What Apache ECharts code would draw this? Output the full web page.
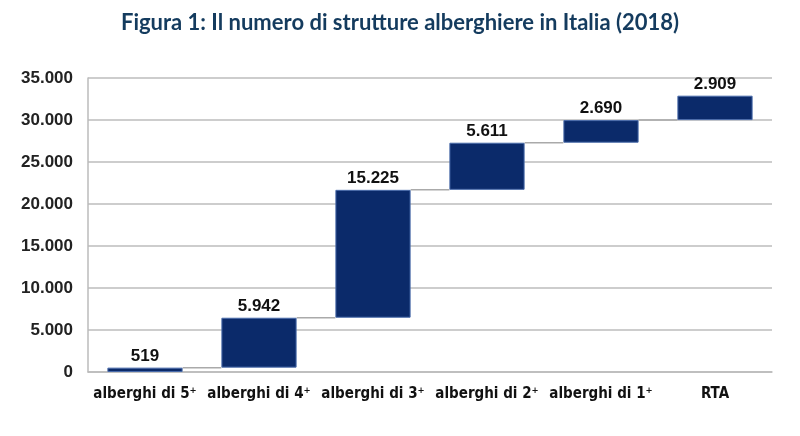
<!DOCTYPE html>
<html><head><meta charset="utf-8">
<script src="https://cdn.jsdelivr.net/npm/echarts@6/dist/echarts.min.js"></script>
<style>html,body{margin:0;padding:0;background:#fff}#c{width:800px;height:436px}</style>
</head><body><div id="c"></div>
<script>
const titleText = 'Figura 1: Il numero di strutture alberghiere in Italia (2018)';
const categories = ['alberghi di 5*', 'alberghi di 4*', 'alberghi di 3*', 'alberghi di 2*', 'alberghi di 1*', 'RTA'];
const values = [519, 5942, 15225, 5611, 2690, 2909];
const yTicks = [0, 5000, 10000, 15000, 20000, 25000, 30000, 35000];

const bases = [];
const tops = [];
let acc = 0;
values.forEach(v => { bases.push(acc); acc += v; tops.push(acc); });
const fmt = n => String(n).replace(/\B(?=(\d{3})+(?!\d))/g, '.');
const connectors = tops.slice(0, -1).map((t, i) => [i, t]);

const chart = echarts.init(document.getElementById('c'));
chart.setOption({
  animation: false,
  title: { text: titleText, left: 'center', top: 7,
    textStyle: { fontFamily: 'Lato', fontWeight: 'bold', fontSize: 22, color: '#143b5e' } },
  grid: { left: 88, right: 28, top: 78, bottom: 64 },
  xAxis: { type: 'category', data: categories,
    axisLine: { show: true, lineStyle: { color: '#bbbbbb', width: 1.5 } },
    axisTick: { show: false },
    axisLabel: { interval: 0, margin: 15, color: '#111', fontFamily: 'DejaVu Sans Condensed', fontWeight: 'bold', fontSize: 15,
      formatter: v => v.replace('*', '⁺') } },
  yAxis: { type: 'value', min: 0, max: yTicks[yTicks.length - 1], interval: 5000,
    axisLine: { show: true, lineStyle: { color: '#bbbbbb', width: 1.5 } },
    axisTick: { show: false },
    splitLine: { lineStyle: { color: '#bdbdbd', width: 1.5 } },
    axisLabel: { margin: 15, color: '#222', fontFamily: 'Liberation Sans', fontWeight: 'bold', fontSize: 17, formatter: v => fmt(v) } },
  series: [
    { type: 'bar', stack: 'w', data: bases, barWidth: '66%', itemStyle: { color: 'transparent' }, silent: true },
    { type: 'bar', stack: 'w', data: values, barWidth: '66%',
      itemStyle: { color: '#0b2a6a', borderColor: '#4a6cab', borderWidth: 1 },
      label: { show: true, position: 'top', distance: 3, color: '#111', fontFamily: 'Liberation Sans', fontWeight: 'bold', fontSize: 17,
        formatter: p => fmt(p.value) } },
    { type: 'custom', data: connectors, z: 1,
      renderItem: (params, api) => {
        const i = api.value(0), v = api.value(1);
        const w = api.size([1, 0])[0] * 0.66;
        const p1 = api.coord([i, v]);
        const p2 = api.coord([i + 1, v]);
        return { type: 'line', shape: { x1: p1[0] + w / 2, y1: p1[1], x2: p2[0] - w / 2, y2: p2[1] },
          style: { stroke: '#aaaaaa', lineWidth: 1.5 } };
      } }
  ]
});
</script></body></html>
